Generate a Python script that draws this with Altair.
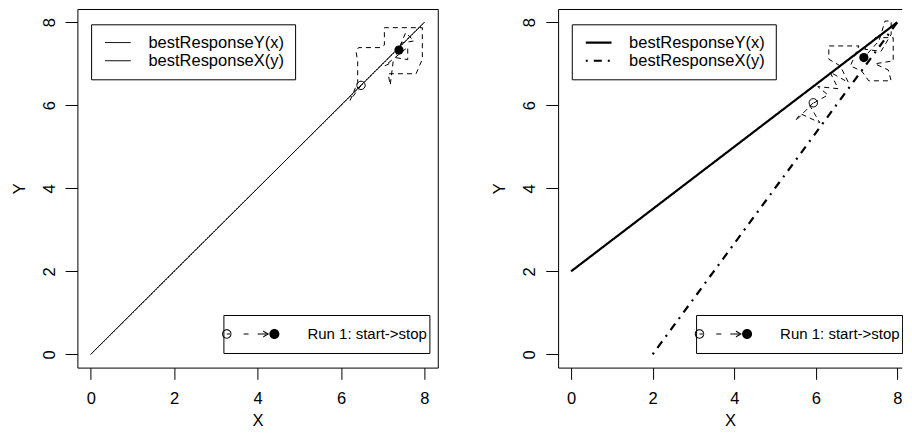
import altair as alt
import pandas as pd

FONT = "Liberation Sans"
FS = 16.5
FS_RUN = 15

# ---- data -------------------------------------------------------------
tick_values = [0, 2, 4, 6, 8]
left_domain = [-0.32, 8.32]
right_x_domain = [-0.32, 8.109]
y_domain = [-0.32, 8.32]
br_names = ["bestResponseY(x)", "bestResponseX(y)"]
run_label = "Run 1: start->stop"

# left panel best responses
left_brY_x = [0, 8]
left_brY_y = [0, 8]
left_brX_x = [0, 8]
left_brX_y = [0, 8]

# right panel best responses
right_brY_x = [0, 8]
right_brY_y = [2, 8]
right_brX_x = [2, 8]
right_brX_y = [0, 8]

# trajectories
left_path_x = [6.48, 6.22, 6.40, 6.40, 6.36, 6.42, 6.94, 7.04, 7.04, 7.70, 7.95,
               7.95, 7.95, 7.80, 7.13, 7.18, 7.25, 7.05, 7.60, 7.60, 7.30, 7.55, 7.75,
               7.45, 7.39]
left_path_y = [6.48, 6.12, 6.55, 7.05, 7.30, 7.39, 7.39, 7.45, 7.87, 7.87, 7.87,
               7.71, 7.11, 6.76, 6.76, 6.49, 7.05, 6.95, 7.40, 7.10, 7.15, 7.75, 7.55,
               7.50, 7.33]

right_path_x = [5.94, 5.50, 5.62, 6.10, 5.85, 6.30, 6.05, 6.55, 6.35, 6.80, 6.60, 6.32,
                6.32, 7.06, 6.85, 7.13, 7.30, 7.85, 7.78, 7.45, 7.90, 7.90, 7.46, 7.20,
                7.60, 7.85, 7.85, 7.70, 7.55, 7.18]
right_path_y = [6.06, 5.62, 5.80, 5.58, 6.00, 6.25, 6.45, 6.40, 6.80, 6.55, 6.95, 7.11,
                7.43, 7.43, 6.95, 6.82, 6.59, 6.59, 6.85, 7.00, 7.07, 7.63, 7.63, 7.35,
                7.30, 7.71, 8.03, 8.03, 7.55, 7.15]

# ---- legend symbol shapes (styling) --------------------------------------
LINE_SYMBOL = "M -12.85 0 H 12.85"          # drawn at symbol size 4 -> 1 unit = 1 px

RUN_SIZE = 34 * 34                            # 1 unit = 17 px
_u = 17.0


def _p(v):
    return f"{v / _u:.4f}"


def _circle(cx, r, ccw):
    sweep = "0" if ccw else "1"
    return (f"M {_p(cx - r)} 0 A {_p(r)} {_p(r)} 0 1 {sweep} {_p(cx + r)} 0 "
            f"A {_p(r)} {_p(r)} 0 1 {sweep} {_p(cx - r)} 0 Z ")


def _rect(x0, x1, h=0.5):
    return f"M {_p(x0)} {_p(-h)} H {_p(x1)} V {_p(h)} H {_p(x0)} Z "


RUN_SYMBOL = (
    _circle(-23.8, 4.7, True) + _circle(-23.8, 3.7, False)
    + _rect(-23.8, -19.5) + _rect(-7, -2) + _rect(7, 15.5)
    + f"M {_p(12.6)} {_p(-3.4)} L {_p(18.6)} 0 L {_p(12.6)} {_p(3.4)} "
      f"L {_p(12.6)} {_p(2.2)} L {_p(16.4)} 0 L {_p(12.6)} {_p(-2.2)} Z "
    + _circle(23.8, 5, True)
    + "M 0 -1 M 0 1"
)

PH = 358.6


def br_frame(xa, ya, xb, yb):
    return pd.DataFrame({
        "fn": [br_names[0]] * len(xa) + [br_names[1]] * len(xb),
        "x": list(xa) + list(xb),
        "y": list(ya) + list(yb),
    })


def path_frame(xs, ys):
    return pd.DataFrame({"step": list(range(len(xs))), "x": xs, "y": ys})


def panel(brdf, pathdf, dashes, br_width, xdom, px_per_unit, framed, run_leg_x):
    xs = alt.Scale(domain=xdom, nice=False, zero=False)
    ys = alt.Scale(domain=y_domain, nice=False, zero=False)
    xax = alt.Axis(values=tick_values, title="X", tickSize=11.7, labelPadding=11,
                   titlePadding=6, labelFlush=False, labelOverlap=False,
                   domain=not framed, domainColor="black")
    yax = alt.Axis(values=tick_values, title="Y", tickSize=12.3, labelAngle=270,
                   labelAlign="center", labelBaseline="alphabetic", labelPadding=10.8,
                   titlePadding=14.1, labelFlush=False, labelOverlap=False,
                   domain=not framed, domainColor="black")
    Xmain = alt.X("x:Q", scale=xs, axis=xax)
    Xnone = alt.X("x:Q", scale=xs, axis=None)
    Y = alt.Y("y:Q", scale=ys, axis=yax)

    br = alt.Chart(brdf).mark_line(color="black", strokeWidth=br_width).encode(
        x=Xmain, y=Y,
        strokeDash=alt.StrokeDash(
            "fn:N", title=None,
            scale=alt.Scale(domain=br_names, range=dashes),
            legend=alt.Legend(orient="none", legendX=13.7, legendY=15.3,
                              strokeColor="black", fillColor="white", padding=10,
                              cornerRadius=0, symbolType=LINE_SYMBOL, symbolSize=4,
                              symbolStrokeWidth=br_width, symbolStrokeColor="black",
                              symbolOffset=8.6, labelOffset=22.2, rowPadding=1.2,
                              labelFont=FONT, labelFontSize=FS, labelColor="black",
                              labelLimit=400),
        ),
    )
    traj = alt.Chart(pathdf).mark_line(color="black", strokeWidth=1,
                                       strokeDash=[5, 4]).encode(
        x=Xnone, y=Y, order="step:Q")
    start = alt.Chart(pathdf.iloc[[0]]).mark_point(
        shape="circle", filled=False, color="black", size=70, strokeWidth=1,
        opacity=1).encode(x=Xnone, y=Y)
    stop = alt.Chart(pathdf.iloc[[-1]]).mark_point(
        shape="circle", filled=True, color="black", size=85, opacity=1).encode(x=Xnone, y=Y)
    if framed:
        Xleg = Xnone
    else:
        Xleg = alt.X("x:Q", scale=xs, axis=alt.Axis(orient="top", labels=False, ticks=False,
                                                   domain=True, domainColor="black",
                                                   title=None, grid=False))
    runleg = alt.Chart(pd.DataFrame({"label": [run_label], "x": [0], "y": [0]})
                       ).transform_filter("false").mark_point(
        filled=True, color="black", size=RUN_SIZE, opacity=1).encode(
        x=Xleg, y=Y,
        shape=alt.Shape(
            "label:N", title=None,
            scale=alt.Scale(domain=[run_label], range=[RUN_SYMBOL]),
            legend=alt.Legend(orient="none", legendX=run_leg_x, legendY=306,
                              strokeColor="black", fillColor="white", padding=2,
                              cornerRadius=0, symbolSize=RUN_SIZE, symbolFillColor="black",
                              symbolStrokeWidth=0, symbolOffset=8.2, labelOffset=39.8,
                              labelFont=FONT, labelFontSize=FS_RUN, labelColor="black",
                              labelLimit=400),
        ),
    )
    width = (xdom[1] - xdom[0]) * px_per_unit
    ch = alt.layer(br, traj, start, stop, runleg).resolve_axis(x="independent")
    if framed:
        return ch.properties(width=width, height=PH)
    return ch.properties(width=width, height=PH,
                         view=alt.ViewBackground(stroke="transparent"))


left = panel(br_frame(left_brY_x, left_brY_y, left_brX_x, left_brX_y),
             path_frame(left_path_x, left_path_y), [[1, 0], [1, 0]], 1,
             left_domain, 41.71, True, 146)
right = panel(br_frame(right_brY_x, right_brY_y, right_brX_x, right_brX_y),
              path_frame(right_path_x, right_path_y), [[1, 0], [2, 6, 8, 6]], 2.2,
              right_x_domain, 40.77, False, 138)

chart = alt.hconcat(left, right, spacing=52.7).resolve_scale(
    strokeDash="independent", shape="independent"
).resolve_legend(
    strokeDash="independent", shape="independent"
).properties(
    padding={"left": 2.4, "top": 0, "right": 0, "bottom": 0},
    background="white",
).configure_view(stroke="black", strokeWidth=1).configure_axis(
    grid=False, tickColor="black", tickWidth=1,
    labelFont=FONT, labelFontSize=FS, labelColor="black",
    titleFont=FONT, titleFontSize=FS, titleColor="black", titleFontWeight="normal",
)

chart.save("out.html", embed_options={"renderer": "svg", "actions": False})
